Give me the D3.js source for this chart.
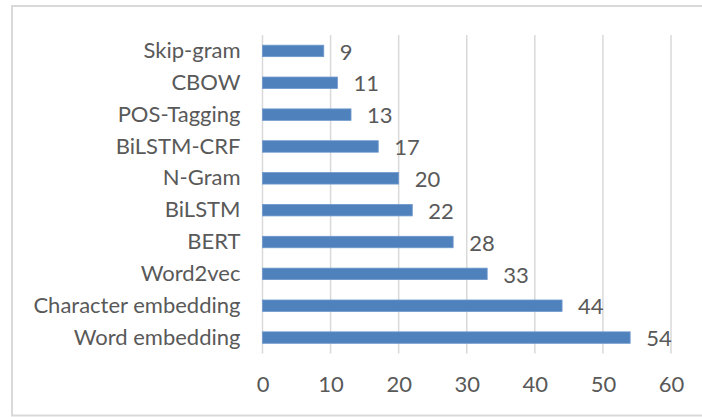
<!DOCTYPE html>
<html>
<head>
<meta charset="utf-8">
<script src="https://cdn.jsdelivr.net/npm/d3@7"></script>
<style>
  html, body { margin: 0; padding: 0; background: #fff; }
  svg { display: block; }
  text { font-family: Lato, "Open Sans", "Liberation Sans", sans-serif; fill: #595959; }
</style>
</head>
<body>
<svg id="chart" width="702" height="417"></svg>
<script>
// Word-representation techniques and how often each appears
const categories = ["Skip-gram", "CBOW", "POS-Tagging", "BiLSTM-CRF", "N-Gram",
                    "BiLSTM", "BERT", "Word2vec", "Character embedding", "Word embedding"];
const counts = [9, 11, 13, 17, 20, 22, 28, 33, 44, 54];
const xTicks = [0, 10, 20, 30, 40, 50, 60];

const svg = d3.select("#chart");
const W = 702, H = 417;
const plot = { left: 262.5, right: 671, top: 35, bottom: 353.5 };

// outer frame
svg.append("rect")
  .attr("x", 12).attr("y", 6)
  .attr("width", W - 12 + 2).attr("height", 415.5 - 6)
  .attr("fill", "none").attr("stroke", "#d9d9d9").attr("stroke-width", 2);

const x = d3.scaleLinear().domain([0, 60]).range([plot.left, plot.right]);
const y = d3.scaleBand().domain(categories).range([plot.top, plot.bottom]).paddingInner(0.64).paddingOuter(0.32);

// vertical gridlines
svg.append("g")
  .selectAll("line")
  .data(xTicks)
  .join("line")
  .attr("x1", d => x(d)).attr("x2", d => x(d))
  .attr("y1", plot.top).attr("y2", plot.bottom)
  .attr("stroke", "#d9d9d9").attr("stroke-width", 1.5);

// x axis tick labels
const xAxis = d3.axisBottom(x).tickValues(xTicks).tickSize(0).tickPadding(0);
const gx = svg.append("g").attr("transform", `translate(0,${plot.bottom + 31})`).call(xAxis);
gx.select(".domain").remove();
gx.selectAll("text")
  .attr("dy", "0.35em")
  .attr("font-size", 22)
  .style("font-family", "Lato, 'Open Sans', 'Liberation Sans', sans-serif")
  .attr("fill", "#595959");

// category labels
const yAxis = d3.axisLeft(y).tickSize(0).tickPadding(22);
const gy = svg.append("g").attr("transform", `translate(${plot.left},0)`).call(yAxis);
gy.select(".domain").remove();
gy.selectAll("text")
  .attr("font-size", 22)
  .style("font-family", "Lato, 'Open Sans', 'Liberation Sans', sans-serif")
  .attr("fill", "#595959");

// bars
svg.append("g")
  .selectAll("rect")
  .data(categories)
  .join("rect")
  .attr("x", x(0))
  .attr("y", d => y(d))
  .attr("width", (d, i) => x(counts[i]) - x(0))
  .attr("height", y.bandwidth())
  .attr("fill", "#4f81bd")
  .attr("stroke", "#6e98cc").attr("stroke-width", 0.8);

// value labels
svg.append("g")
  .selectAll("text")
  .data(categories)
  .join("text")
  .attr("x", (d, i) => x(counts[i]) + 16)
  .attr("y", d => y(d) + y.bandwidth() / 2 + 1)
  .attr("dy", "0.35em")
  .attr("font-size", 22)
  .text((d, i) => counts[i]);
</script>
</body>
</html>
